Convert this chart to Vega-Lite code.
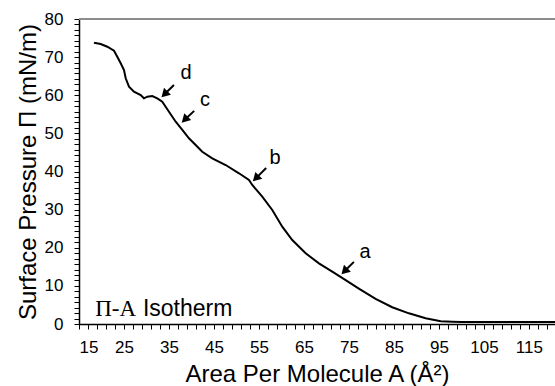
{
  "$schema": "https://vega.github.io/schema/vega-lite/v6.json",
  "width": 476,
  "height": 305,
  "autosize": "none",
  "padding": {"left": 79, "top": 19, "right": 0, "bottom": 62},
  "background": "white",
  "config": {
    "view": {"stroke": null},
    "font": "Liberation Sans",
    "axis": {"ticks": true, "tickColor": "black", "tickWidth": 1, "tickSize": 5, "tickOpacity": 1, "grid": false, "labelOverlap": false}
  },
  "datasets": {
    "curve": [
      {"area": 18.33, "pressure": 73.78},
      {"area": 19.82, "pressure": 73.44},
      {"area": 21.29, "pressure": 72.73},
      {"area": 22.78, "pressure": 71.69},
      {"area": 23.51, "pressure": 70.11},
      {"area": 24.27, "pressure": 68.38},
      {"area": 25.0, "pressure": 66.62},
      {"area": 25.38, "pressure": 64.45},
      {"area": 26.11, "pressure": 62.24},
      {"area": 27.22, "pressure": 60.93},
      {"area": 28.71, "pressure": 60.07},
      {"area": 29.44, "pressure": 59.2},
      {"area": 30.18, "pressure": 59.62},
      {"area": 31.29, "pressure": 59.8},
      {"area": 32.4, "pressure": 59.2},
      {"area": 33.51, "pressure": 58.31},
      {"area": 35.0, "pressure": 55.68},
      {"area": 36.49, "pressure": 53.06},
      {"area": 37.96, "pressure": 50.89},
      {"area": 39.44, "pressure": 48.71},
      {"area": 40.93, "pressure": 46.95},
      {"area": 42.4, "pressure": 45.19},
      {"area": 44.62, "pressure": 43.46},
      {"area": 47.6, "pressure": 41.7},
      {"area": 50.56, "pressure": 39.53},
      {"area": 52.78, "pressure": 37.77},
      {"area": 53.51, "pressure": 36.46},
      {"area": 55.73, "pressure": 33.39},
      {"area": 57.96, "pressure": 29.9},
      {"area": 60.18, "pressure": 25.52},
      {"area": 62.4, "pressure": 22.03},
      {"area": 65.38, "pressure": 18.54},
      {"area": 68.33, "pressure": 15.92},
      {"area": 71.29, "pressure": 13.72},
      {"area": 74.27, "pressure": 11.5},
      {"area": 77.2, "pressure": 9.3},
      {"area": 80.93, "pressure": 6.6},
      {"area": 84.62, "pressure": 4.4},
      {"area": 88.33, "pressure": 2.8},
      {"area": 92.04, "pressure": 1.5},
      {"area": 95.4, "pressure": 0.75},
      {"area": 98.0, "pressure": 0.6},
      {"area": 100.0, "pressure": 0.5},
      {"area": 121.0, "pressure": 0.5}
    ],
    "arrows": [
      {"label": "a", "hx": 74.0, "hy": 13.85, "tx": 76.1, "ty": 16.3, "lx": 78.6, "ly": 18.9},
      {"label": "b", "hx": 54.3, "hy": 38.2, "tx": 56.6, "ty": 40.9, "lx": 58.6, "ly": 43.5},
      {"label": "c", "hx": 38.5, "hy": 53.6, "tx": 40.6, "ty": 55.9, "lx": 43.0, "ly": 58.8},
      {"label": "d", "hx": 34.0, "hy": 60.25, "tx": 36.1, "ty": 62.7, "lx": 38.8, "ly": 65.8}
    ],
    "legendText": [
      {"x": 18.6, "y": 2.1, "part1": "Π-A", "x2": 29.2, "part2": "Isotherm"}
    ],
    "frame": [{"left": 15, "right": 120.8, "top": 80}]
  },
  "layer": [
    {
      "data": {"name": "curve"},
      "mark": {"type": "line", "color": "black", "strokeWidth": 2},
      "encoding": {
        "x": {
          "field": "area", "type": "quantitative",
          "scale": {"domain": [15, 120.8], "nice": false, "zero": false},
          "axis": {
            "title": "Area Per Molecule A (Å²)",
            "titleFont": "Liberation Sans", "titleFontSize": 24, "titleFontWeight": "normal", "titleColor": "black", "titlePadding": 7,
            "tickCount": 200,
            "format": "d",
            "values": [15,17,19,21,23,25,27,29,31,33,35,37,39,41,43,45,47,49,51,53,55,57,59,61,63,65,67,69,71,73,75,77,79,81,83,85,87,89,91,93,95,97,99,101,103,105,107,109,111,113,115,117,119],
            "labelExpr": "(datum.value - 5) % 10 === 0 ? datum.label : ''",
            "labelFontSize": 17, "labelColor": "black", "labelPadding": 10,
            "domainColor": "black", "domainWidth": 1.5
          }
        },
        "y": {
          "field": "pressure", "type": "quantitative",
          "scale": {"domain": [0, 80], "nice": false},
          "axis": {
            "title": "Surface Pressure Π (mN/m)",
            "titleFont": "Liberation Sans", "titleFontSize": 24, "titleFontWeight": "normal", "titleColor": "black", "titlePadding": 4,
            "tickCount": 200,
            "format": "d",
            "values": [0,1.43,2.86,4.29,5.71,7.14,8.57,10,11.43,12.86,14.29,15.71,17.14,18.57,20,21.43,22.86,24.29,25.71,27.14,28.57,30,31.43,32.86,34.29,35.71,37.14,38.57,40,41.43,42.86,44.29,45.71,47.14,48.57,50,51.43,52.86,54.29,55.71,57.14,58.57,60,61.43,62.86,64.29,65.71,67.14,68.57,70,71.43,72.86,74.29,75.71,77.14,78.57,80],
            "labelExpr": "datum.value % 10 === 0 ? datum.label : ''",
            "labelFontSize": 17, "labelColor": "black", "labelPadding": 11,
            "domainColor": "black", "domainWidth": 1.5
          }
        }
      }
    },
    {
      "data": {"name": "arrows"},
      "mark": {"type": "rule", "color": "black", "strokeWidth": 2},
      "encoding": {
        "x": {"field": "hx", "type": "quantitative"},
        "y": {"field": "hy", "type": "quantitative"},
        "x2": {"field": "tx"},
        "y2": {"field": "ty"}
      }
    },
    {
      "data": {"name": "arrows"},
      "mark": {"type": "point", "shape": "triangle-up", "filled": true, "color": "black", "opacity": 1, "size": 95, "angle": 225},
      "encoding": {
        "x": {"field": "hx", "type": "quantitative"},
        "y": {"field": "hy", "type": "quantitative"}
      }
    },
    {
      "data": {"name": "arrows"},
      "mark": {"type": "text", "font": "Liberation Sans", "fontSize": 20, "color": "black", "align": "center", "baseline": "middle"},
      "encoding": {
        "x": {"field": "lx", "type": "quantitative"},
        "y": {"field": "ly", "type": "quantitative"},
        "text": {"field": "label"}
      }
    },
    {
      "data": {"name": "legendText"},
      "mark": {"type": "text", "font": "Liberation Serif", "fontSize": 23, "color": "black", "align": "left", "baseline": "alphabetic"},
      "encoding": {
        "x": {"field": "x", "type": "quantitative"},
        "y": {"field": "y", "type": "quantitative"},
        "text": {"field": "part1"}
      }
    },
    {
      "data": {"name": "legendText"},
      "mark": {"type": "text", "font": "Liberation Sans", "fontSize": 23, "color": "black", "align": "left", "baseline": "alphabetic"},
      "encoding": {
        "x": {"field": "x2", "type": "quantitative"},
        "y": {"field": "y", "type": "quantitative"},
        "text": {"field": "part2"}
      }
    },
    {
      "data": {"name": "frame"},
      "mark": {"type": "rule", "color": "#8c8c8c", "strokeWidth": 2},
      "encoding": {
        "x": {"field": "left", "type": "quantitative"},
        "x2": {"field": "right"},
        "y": {"field": "top", "type": "quantitative"}
      }
    }
  ]
}
